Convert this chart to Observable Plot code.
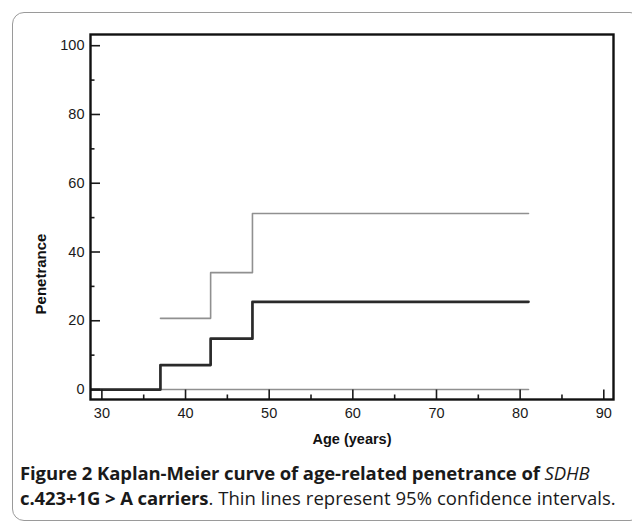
<!DOCTYPE html>
<html>
<head>
<meta charset="utf-8">
<script src="https://cdn.jsdelivr.net/npm/d3@7"></script>
<script src="https://cdn.jsdelivr.net/npm/@observablehq/plot@0.6"></script>
<style>
  html, body { margin: 0; padding: 0; background: #fff; }
  #page { position: relative; width: 632px; height: 528px; overflow: hidden; background: #fff; }
  #box { position: absolute; left: 12px; top: 12px; width: 630px; height: 509px;
         border: 1px solid #9a9a9a; border-radius: 12px; box-sizing: border-box; }
  #chart { position: absolute; left: 0; top: 0; }
  #caption { position: absolute; left: 20px; top: 460px; width: 612px; white-space: nowrap;
             font-family: "Open Sans", sans-serif; font-size: 18.5px; line-height: 25px;
             color: #1a1a1a; letter-spacing: -0.1px; }
  #caption b { font-weight: 700; }
  #caption .rest { letter-spacing: 0.05px; }
</style>
</head>
<body>
<div id="page">
  <div id="box"></div>
  <div id="chart"></div>
  <div id="caption"><b>Figure 2 Kaplan-Meier curve of age-related penetrance of </b><i>SDHB</i><br><b>c.423+1G &gt; A carriers</b><span class="rest">. Thin lines represent 95% confidence intervals.</span></div>
</div>
<script>
// Kaplan-Meier estimate (thick line)
const kmAge = [0, 37, 43, 48, 81];
const kmPen = [0, 7.1, 14.8, 25.5, 25.5];
// Upper 95% CI (thin line)
const upperAge = [37, 43, 48, 81];
const upperPen = [20.7, 34, 51.2, 51.2];
// Lower 95% CI (thin line)
const lowerAge = [0, 81];
const lowerPen = [0, 0];
// Ticks
const xMajor = [30, 40, 50, 60, 70, 80, 90];
const xMinor = [35, 45, 55, 65, 75, 85];
const yMajor = [0, 20, 40, 60, 80, 100];
const yMinor = [10, 30, 50, 70, 90];
const xTitle = "Age (years)";
const yTitle = "Penetrance";

const toRows = (xs, ys) => xs.map((x, i) => ({age: x, pen: ys[i]}));
const km = toRows(kmAge, kmPen);
const upper = toRows(upperAge, upperPen);
const lower = toRows(lowerAge, lowerPen);

const chart = Plot.plot({
  width: 632,
  height: 450,
  marginLeft: 90,
  marginRight: 19,
  marginTop: 34,
  marginBottom: 51,
  x: {domain: [28.64, 91.16]},
  y: {domain: [-2.9, 103.26]},
  style: {fontFamily: "'Liberation Sans', Arial, sans-serif", fontSize: "14px", color: "#222", background: "transparent", overflow: "visible"},
  marks: [
    Plot.line(lower, {x: "age", y: "pen", curve: "step-after", stroke: "#909090", strokeWidth: 1.6, clip: true}),
    Plot.line(upper, {x: "age", y: "pen", curve: "step-after", stroke: "#909090", strokeWidth: 1.6, clip: true}),
    Plot.line(km, {x: "age", y: "pen", curve: "step-after", stroke: "#2a2a2a", strokeWidth: 2.7, clip: true}),
    Plot.axisX(xMajor, {tickSize: -9.5, text: null, stroke: "#1a1a1a", strokeWidth: 1.6, label: null}),
    Plot.axisX(xMinor, {tickSize: -4.5, text: null, stroke: "#1a1a1a", strokeWidth: 1.6, label: null}),
    Plot.axisX(xMajor, {tickSize: 0, tickPadding: 8, label: null, fill: "#1a1a1a", fontSize: 14.5}),
    Plot.axisY(yMajor, {tickSize: -10, text: null, stroke: "#1a1a1a", strokeWidth: 1.6, label: null}),
    Plot.axisY(yMinor, {tickSize: -4.5, text: null, stroke: "#1a1a1a", strokeWidth: 1.6, label: null}),
    Plot.axisY(yMajor, {tickSize: 0, tickPadding: 6, label: null, fill: "#1a1a1a", fontSize: 14.5}),
    Plot.frame({stroke: "#111", strokeWidth: 2.4}),
    Plot.text([xTitle], {frameAnchor: "bottom", text: d => d, dy: 44, fontWeight: "bold", fontSize: 14.5, fill: "#111"}),
    Plot.text([yTitle], {frameAnchor: "left", text: d => d, rotate: -90, textAnchor: "middle", dx: -49, dy: 57, fontWeight: "bold", fontSize: 15, fill: "#111"})
  ]
});
document.getElementById("chart").appendChild(chart);
</script>
</body>
</html>
